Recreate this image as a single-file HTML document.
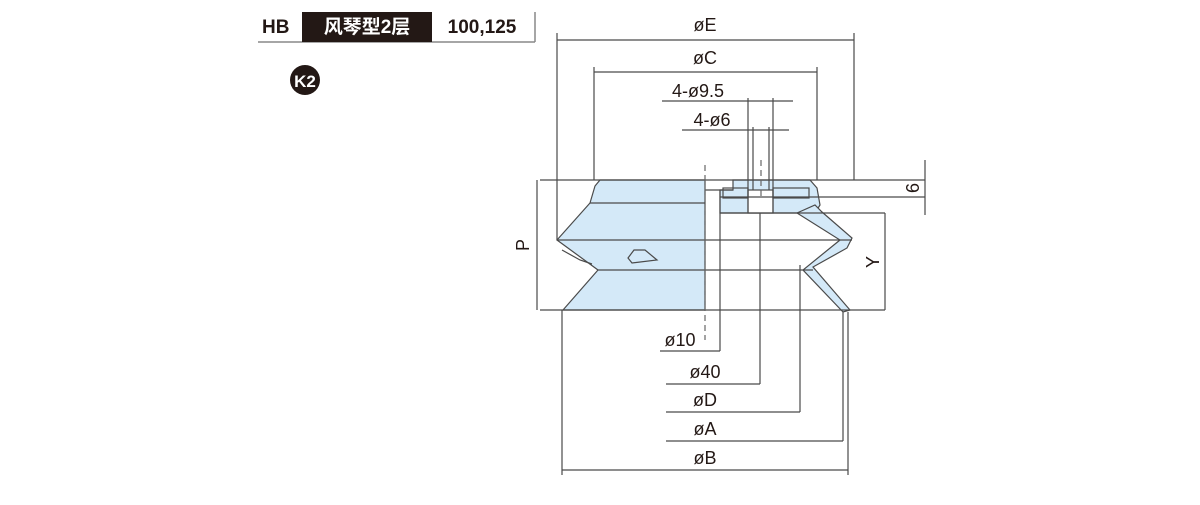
<!DOCTYPE html>
<html><head><meta charset="utf-8"><style>
body{margin:0;background:#fff;width:1200px;height:500px;overflow:hidden;font-family:"Liberation Sans","Noto Sans CJK SC",sans-serif}
</style></head><body>
<svg width="1200" height="500" viewBox="0 0 1200 500" xmlns="http://www.w3.org/2000/svg" font-family="Liberation Sans, Noto Sans CJK SC, sans-serif">
<line x1="258" y1="42" x2="535" y2="42" stroke="#888" stroke-width="1.5"/>
<line x1="535" y1="12" x2="535" y2="42" stroke="#888" stroke-width="1.5"/>
<rect x="302" y="12" width="130" height="30" fill="#231815"/>
<text x="262" y="33" font-size="19" font-weight="bold" fill="#231815">HB</text>
<text x="367" y="33" font-size="19" font-weight="bold" fill="#fff" text-anchor="middle">风琴型2层</text>
<text x="482" y="33" font-size="19" font-weight="bold" fill="#231815" text-anchor="middle">100,125</text>
<circle cx="305" cy="80" r="15" fill="#231815"/>
<text x="305" y="87" font-size="17" font-weight="bold" fill="#fff" text-anchor="middle">K2</text>

<g stroke="#4a4a4a" stroke-width="1.2" fill="none">
<path d="M600,180 L705,180 L705,310 L563,310 L598,270 L557,240 L590,203 L595,186 Z" fill="#d4e9f8"/>
<path d="M720,190 L733,190 L733,180 L810,180 L817,188 L820,205 L815,213 L720,213 Z" fill="#d4e9f8"/>
<path d="M797,213 L815,205 L822,212 L852,238 L847,248 L813,267 L850,310 L843,312 L803,270 L840,240 Z" fill="#d4e9f8"/>
<rect x="748" y="190" width="25" height="23" fill="#fff"/>
<rect x="723" y="188" width="25" height="10"/>
<rect x="773" y="188" width="36" height="10"/>
<line x1="590" y1="203" x2="705" y2="203"/>
<line x1="705" y1="190" x2="733" y2="190"/>
<line x1="540" y1="180" x2="925" y2="180"/>
<line x1="720" y1="197" x2="925" y2="197"/>
<line x1="720" y1="213" x2="885" y2="213"/>
<line x1="557" y1="240" x2="852" y2="240"/>
<line x1="598" y1="270" x2="813" y2="270"/>
<line x1="540" y1="310" x2="885" y2="310"/>
<line x1="720" y1="190" x2="720" y2="351"/>
<line x1="760" y1="213" x2="760" y2="384"/>
<line x1="800" y1="265" x2="800" y2="412"/>
<line x1="843" y1="312" x2="843" y2="441"/>
<line x1="848" y1="312" x2="848" y2="475"/>
<line x1="562" y1="310" x2="562" y2="475"/>
<line x1="562" y1="470" x2="848" y2="470"/>
<line x1="660" y1="351" x2="720" y2="351"/>
<line x1="666" y1="384" x2="760" y2="384"/>
<line x1="666" y1="412" x2="800" y2="412"/>
<line x1="666" y1="441" x2="843" y2="441"/>
<line x1="557" y1="33" x2="557" y2="240"/>
<line x1="854" y1="33" x2="854" y2="180"/>
<line x1="557" y1="40" x2="854" y2="40"/>
<line x1="594" y1="67" x2="594" y2="180"/>
<line x1="817" y1="67" x2="817" y2="180"/>
<line x1="594" y1="72" x2="817" y2="72"/>
<line x1="662" y1="101" x2="793" y2="101"/>
<line x1="748" y1="98" x2="748" y2="213"/>
<line x1="773" y1="98" x2="773" y2="213"/>
<line x1="682" y1="130" x2="789" y2="130"/>
<line x1="753" y1="127" x2="753" y2="190"/>
<line x1="769" y1="127" x2="769" y2="190"/>
<line x1="537" y1="180" x2="537" y2="310"/>
<line x1="885" y1="213" x2="885" y2="310"/>
<line x1="925" y1="160" x2="925" y2="215"/>
<path d="M628,258 L634,250 L645,250 L657,260 L632,263 Z"/>
<path d="M562,250 L580,260 L592,264"/>
</g>
<line x1="705" y1="165" x2="705" y2="340" stroke="#666" stroke-width="1.2" stroke-dasharray="6,4"/>
<line x1="761" y1="160" x2="761" y2="200" stroke="#666" stroke-width="1.2" stroke-dasharray="6,4"/>
<g font-size="18" fill="#231815" text-anchor="middle">
<text x="705" y="31">øE</text>
<text x="705" y="64">øC</text>
<text x="698" y="97">4-ø9.5</text>
<text x="712" y="126">4-ø6</text>
<text x="680" y="346">ø10</text>
<text x="705" y="378">ø40</text>
<text x="705" y="406">øD</text>
<text x="705" y="435">øA</text>
<text x="705" y="464">øB</text>
<text transform="translate(529,245) rotate(-90)">P</text>
<text transform="translate(879,262) rotate(-90)">Y</text>
<text transform="translate(919,188) rotate(-90)">6</text>
</g>
</svg>
</body></html>
